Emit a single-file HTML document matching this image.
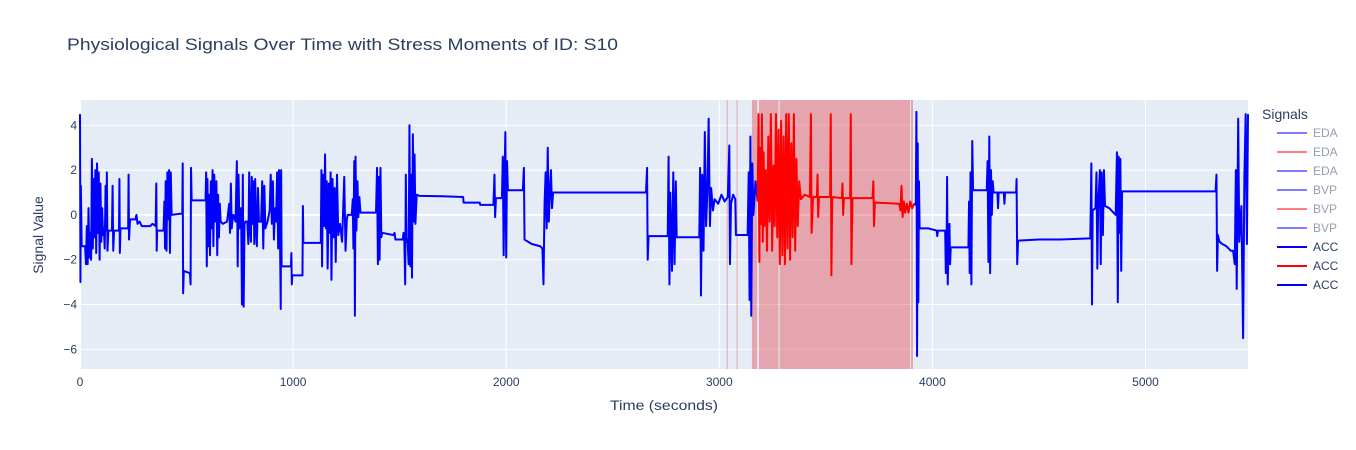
<!DOCTYPE html>
<html><head><meta charset="utf-8"><style>
body{margin:0;background:#fff;}
svg{display:block;font-family:"Liberation Sans",Arial,sans-serif;}
</style></head><body>
<svg id="chart" width="1356" height="450">
<rect x="0" y="0" width="1356" height="450" fill="#fff"/>
<text x="67" y="50" font-size="17" fill="#2a3f5f" textLength="551" lengthAdjust="spacingAndGlyphs">Physiological Signals Over Time with Stress Moments of ID: S10</text>
<rect x="80" y="100" width="1168" height="269" fill="#e5ecf6"/>
<g id="grid"></g>
<g id="shapes"></g>
<g id="traces"></g>
<g id="ticks"></g>
<text x="610" y="410" font-size="14" fill="#2a3f5f" textLength="108" lengthAdjust="spacingAndGlyphs">Time (seconds)</text>
<text x="43" y="235" font-size="14" fill="#2a3f5f" text-anchor="middle" transform="rotate(-90 43 235)">Signal Value</text>
<g id="legend">
<text x="1262" y="119" font-size="14" fill="#2a3f5f">Signals</text>
</g>
</svg>
<script>
const xTicks=[0,1000,2000,3000,4000,5000];
const yTicks=[4,2,0,-2,-4,-6];
const stressRegions=[[3035,3038],[3081,3084],[3153,3178],[3186,3278],[3283,3895],[3899,3909]];
const blueSeries1=[[0,4.5],[2,-3],[4,1.3],[8,-1.4],[24,-1.4],[28,-2.2],[32,-0.5],[36,-2.2],[40,0.3],[44,-1.9],[48,-0.8],[52,-2.0],[56,2.5],[60,-1.5],[64,1.6],[68,-1.0],[72,2.0],[76,-1.7],[80,2.3],[84,-0.8],[88,1.9],[92,-2.0],[96,1.4],[100,-1.2],[104,0.3],[108,-0.9],[112,-0.6],[116,-1.5],[120,1.3],[124,-0.7],[126,1.9],[129,-1.6],[133,-0.7],[150,-0.7],[153,1.3],[156,-1.6],[160,-0.7],[183,-0.7],[185,1.6],[187,-1.7],[190,-0.6],[226,-0.6],[228,1.8],[230,-1.1],[235,-0.2],[260,-0.2],[265,0.0],[270,-0.4],[280,-0.3],[290,-0.5],[330,-0.5],[340,-0.4],[355,-0.5],[358,1.4],[360,-1.6],[362,-0.7],[392,-0.7],[396,0.6],[399,-1.5],[402,1.5],[406,-1.6],[410,1.9],[414,-0.2],[418,2.0],[422,-1.7],[426,1.9],[430,0.0],[470,0.05],[480,0.05],[482,2.3],[484,-3.5],[487,-2.5],[516,-2.6],[519,-3.1],[521,2.1],[524,0.65],[589,0.65],[592,1.9],[595,-2.3],[598,1.6],[602,-1.4],[606,0.9],[610,-1.8],[614,1.5],[618,-0.6],[622,2.0],[626,-1.4],[630,1.8],[634,-0.3],[640,1.5],[644,-1.8],[648,0.9],[652,-1.0],[656,0.5],[660,-0.3],[670,-0.4],[690,-0.3],[700,0.5],[704,-0.8],[708,1.4],[712,-0.6],[716,-0.2],[720,0.0],[730,-0.3],[736,2.4],[740,-2.3],[744,1.8],[748,-0.6],[752,-0.4],[756,0.3],[760,-4.0],[764,1.8],[768,-4.1],[772,-0.4],[776,-0.3],[785,-0.3],[790,-1.3],[794,1.9],[798,-0.5],[802,-1.2],[806,1.7],[810,-0.4],[814,1.5],[818,-1.3],[822,1.6],[826,-0.5],[830,-1.4],[835,1.2],[840,-0.3],[850,-0.3],[855,1.5],[860,-1.5],[865,1.3],[870,-0.6],[880,-0.3],[890,0.2],[895,1.8],[900,-0.4],[905,1.5],[910,-1.1],[915,0.3],[920,-0.3],[925,1.9],[930,-1.5],[934,2.0],[938,-0.5],[942,-4.2],[944,2.0],[946,-2.3],[990,-2.3],[992,-1.7],[994,-3.1],[996,-2.7],[1044,-2.7],[1046,0.4],[1048,-1.25],[1130,-1.25],[1133,2.0],[1136,-2.3],[1140,1.8],[1145,-0.5],[1150,2.7],[1154,-0.6],[1158,1.5],[1162,-2.4],[1168,1.4],[1172,-0.8],[1176,1.9],[1180,-2.9],[1185,1.6],[1190,-1.0],[1195,1.2],[1200,-2.1],[1206,1.8],[1212,-0.9],[1220,-0.4],[1230,-1.2],[1240,1.7],[1246,-1.6],[1252,-0.2],[1256,0.0],[1275,0.0],[1280,0.7],[1283,-1.5],[1287,2.4],[1290,-4.5],[1293,2.6],[1297,-0.7],[1302,1.5],[1306,-0.1],[1311,0.8],[1316,0.1],[1389,0.1],[1394,2.1],[1398,-2.2],[1402,1.7],[1406,-2.0],[1410,2.1],[1414,-1.0],[1418,-0.8],[1470,-0.9],[1476,-0.8],[1480,-1.1],[1515,-1.1],[1518,-0.8],[1522,-1.2],[1526,-3.1],[1529,1.8],[1532,-1.0],[1538,-1.3],[1542,-2.2],[1546,4.0],[1550,-2.3],[1554,1.8],[1558,-2.8],[1562,3.6],[1566,-0.3],[1570,2.7],[1574,-0.4],[1580,0.9],[1593,0.85],[1700,0.83],[1798,0.8],[1800,0.55],[1876,0.55],[1878,0.45],[1940,0.45],[1945,1.8],[1948,-0.1],[1952,0.75],[1980,0.75],[1984,2.6],[1988,-1.8],[1992,1.5],[1996,3.7],[2000,-1.9],[2004,2.4],[2008,1.1],[2078,1.1],[2083,2.1],[2086,-1.1],[2120,-1.3],[2160,-1.4],[2170,-1.5],[2175,-3.1],[2180,0.5],[2185,1.9],[2190,-0.6],[2195,3.0],[2200,-0.3],[2205,1.0],[2210,2.0],[2215,0.3],[2220,1.0],[2656,1.0],[2661,2.1],[2664,-2.0],[2668,-0.95],[2758,-0.95],[2762,2.6],[2766,-3.1],[2770,1.0],[2778,-2.5],[2784,1.9],[2790,-2.2],[2796,1.5],[2800,-1.0],[2828,-1.0],[2906,-1.0],[2910,2.1],[2914,-3.6],[2920,1.8],[2926,-1.6],[2932,3.7],[2938,-0.5],[2944,1.0],[2950,4.3],[2956,-0.5],[2962,1.2],[2970,0.2],[2978,0.7],[2995,0.5],[3010,0.9],[3025,0.6],[3040,0.8],[3047,3.1],[3050,-2.2],[3055,0.5],[3065,0.9],[3075,0.7],[3078,-0.9],[3133,-0.9],[3138,1.9],[3142,-3.8],[3146,3.5],[3150,-4.5],[3155,2.3],[3160,0.0],[3170,1.5],[3180,0.6]];
const redSeries=[[3180,0.6],[3184,4.5],[3188,-2.1],[3192,3.0],[3196,-0.4],[3200,4.5],[3204,-1.2],[3208,2.8],[3212,-0.5],[3218,2.0],[3224,-1.6],[3230,3.5],[3236,-0.3],[3242,4.5],[3248,-1.6],[3254,2.2],[3260,-0.5],[3266,4.5],[3272,-1.0],[3278,3.8],[3284,-2.2],[3290,4.2],[3296,-1.8],[3302,3.5],[3308,-2.2],[3314,4.5],[3320,-1.5],[3326,4.5],[3332,-2.0],[3338,3.2],[3344,-1.0],[3350,4.5],[3356,-1.6],[3362,2.5],[3368,-0.5],[3375,1.5],[3383,0.7],[3400,0.9],[3425,0.8],[3430,4.5],[3433,-0.8],[3440,0.8],[3458,0.8],[3461,1.8],[3464,-0.1],[3468,0.8],[3520,0.8],[3523,4.5],[3526,-2.7],[3530,0.8],[3575,0.75],[3578,1.4],[3581,0.0],[3585,0.75],[3614,0.75],[3617,4.5],[3620,-2.2],[3625,0.75],[3719,0.75],[3723,1.5],[3726,-0.5],[3730,0.55],[3844,0.5],[3850,0.2],[3855,1.3],[3860,-0.1],[3866,0.6],[3872,0.1],[3880,0.5],[3888,0.1],[3896,0.6],[3905,0.3],[3914,0.5]];
const blueSeries2=[[3914,0.5],[3922,0.45],[3925,4.6],[3928,-6.3],[3931,3.2],[3934,-3.9],[3937,1.5],[3940,-0.6],[3980,-0.6],[4000,-0.65],[4020,-0.7],[4023,-0.95],[4026,-0.7],[4060,-0.7],[4063,-2.6],[4066,-2.3],[4069,1.7],[4072,-3.1],[4076,-1.2],[4080,-0.4],[4083,-2.2],[4086,-1.45],[4169,-1.45],[4172,0.6],[4175,-2.6],[4179,1.9],[4183,-3.1],[4187,3.3],[4191,1.1],[4255,1.1],[4259,2.4],[4263,-2.1],[4267,3.5],[4271,-2.6],[4275,2.0],[4279,0.0],[4283,1.5],[4287,1.0],[4305,1.0],[4308,0.3],[4311,1.0],[4335,1.0],[4338,0.5],[4341,1.0],[4393,1.0],[4395,1.6],[4398,-2.2],[4402,-1.15],[4500,-1.1],[4600,-1.1],[4741,-1.05],[4746,2.3],[4749,-4.0],[4752,0.2],[4765,0.3],[4770,1.9],[4774,-2.4],[4778,0.4],[4786,2.0],[4790,-2.2],[4794,1.9],[4800,-0.9],[4805,2.0],[4810,0.4],[4830,0.3],[4850,0.1],[4860,0.0],[4866,2.8],[4870,-3.9],[4874,2.6],[4878,-0.8],[4882,2.5],[4886,-2.5],[4890,1.05],[5000,1.05],[5150,1.05],[5329,1.05],[5333,1.8],[5336,-2.5],[5340,-0.9],[5344,-1.1],[5348,-1.2],[5360,-1.3],[5380,-1.4],[5400,-1.6],[5411,-1.6],[5419,-2.2],[5424,2.0],[5428,-3.3],[5435,4.3],[5440,-1.2],[5450,0.4],[5458,-5.5],[5464,1.7],[5470,4.5],[5476,-1.3],[5481,4.5]];
const legendNames=["EDA","EDA","EDA","BVP","BVP","BVP","ACC","ACC","ACC"];
const legendColors=["#0000ff","#ff0000","#0000ff","#0000ff","#ff0000","#0000ff","#0000ff","#ff0000","#0000ff"];
const legendFaded=[true,true,true,true,true,true,false,false,false];

const NS="http://www.w3.org/2000/svg";
const PL=80,PR=1248,PT=100,PB=369,XMIN=0,XMAX=5481,YMIN=-6.88,YMAX=5.13;
function xs(t){return PL+(t-XMIN)/(XMAX-XMIN)*(PR-PL);}
function ys(v){return PB-(v-YMIN)/(YMAX-YMIN)*(PB-PT);}
function mk(tag,attrs,parent){const e=document.createElementNS(NS,tag);for(const k in attrs)e.setAttribute(k,attrs[k]);parent.appendChild(e);return e;}
const grid=document.getElementById('grid'),ticks=document.getElementById('ticks'),shapes=document.getElementById('shapes'),traces=document.getElementById('traces'),legend=document.getElementById('legend');
xTicks.forEach(t=>{
  const l=mk('line',{x1:xs(t),x2:xs(t),y1:PT,y2:PB,stroke:'#fff','stroke-width':t===0?2:1},grid);
  
  
  const tx=mk('text',{x:xs(t),y:PB+17,'font-size':12,fill:'#2a3f5f','text-anchor':'middle'},ticks);
  tx.textContent=t;
  
  
});
yTicks.forEach(v=>{
  const l=mk('line',{x1:PL,x2:PR,y1:ys(v),y2:ys(v),stroke:'#fff','stroke-width':v===0?2:1},grid);
  
  
  const tx=mk('text',{x:PL-3,y:ys(v)+4,'font-size':12,fill:'#2a3f5f','text-anchor':'end'},ticks);
  tx.textContent=(v<0?'\u2212'+(-v):v);
  
  
});
stressRegions.forEach(r=>{
  const re=mk('rect',{x:xs(r[0]),y:PT,width:Math.max(1,xs(r[1])-xs(r[0])),height:PB-PT,fill:'rgba(230,60,70,0.4)'},shapes);
  
  
});
function drawLine(data,color,name){
  const d=data.map((p,i)=>(i?'L':'M')+xs(p[0]).toFixed(2)+','+ys(p[1]).toFixed(2)).join('');
  const p=mk('path',{d:d,fill:'none',stroke:color,'stroke-width':2,'stroke-linejoin':'round'},traces);
  
  
}
drawLine(blueSeries1,'#0000ff','acc-line-normal-1');
drawLine(redSeries,'#ff0000','acc-line-stress');
drawLine(blueSeries2,'#0000ff','acc-line-normal-2');
legendNames.forEach((n,i)=>{
  const y=133+i*19;
  const g=mk('g',{opacity:legendFaded[i]?0.5:1},legend);
  
  
  mk('line',{x1:1277,x2:1307,y1:y,y2:y,stroke:legendColors[i],'stroke-width':2},g);
  const t=mk('text',{x:1313,y:y+4,'font-size':12,fill:'#2a3f5f'},g);
  t.textContent=n;
});
</script>
</body></html>
